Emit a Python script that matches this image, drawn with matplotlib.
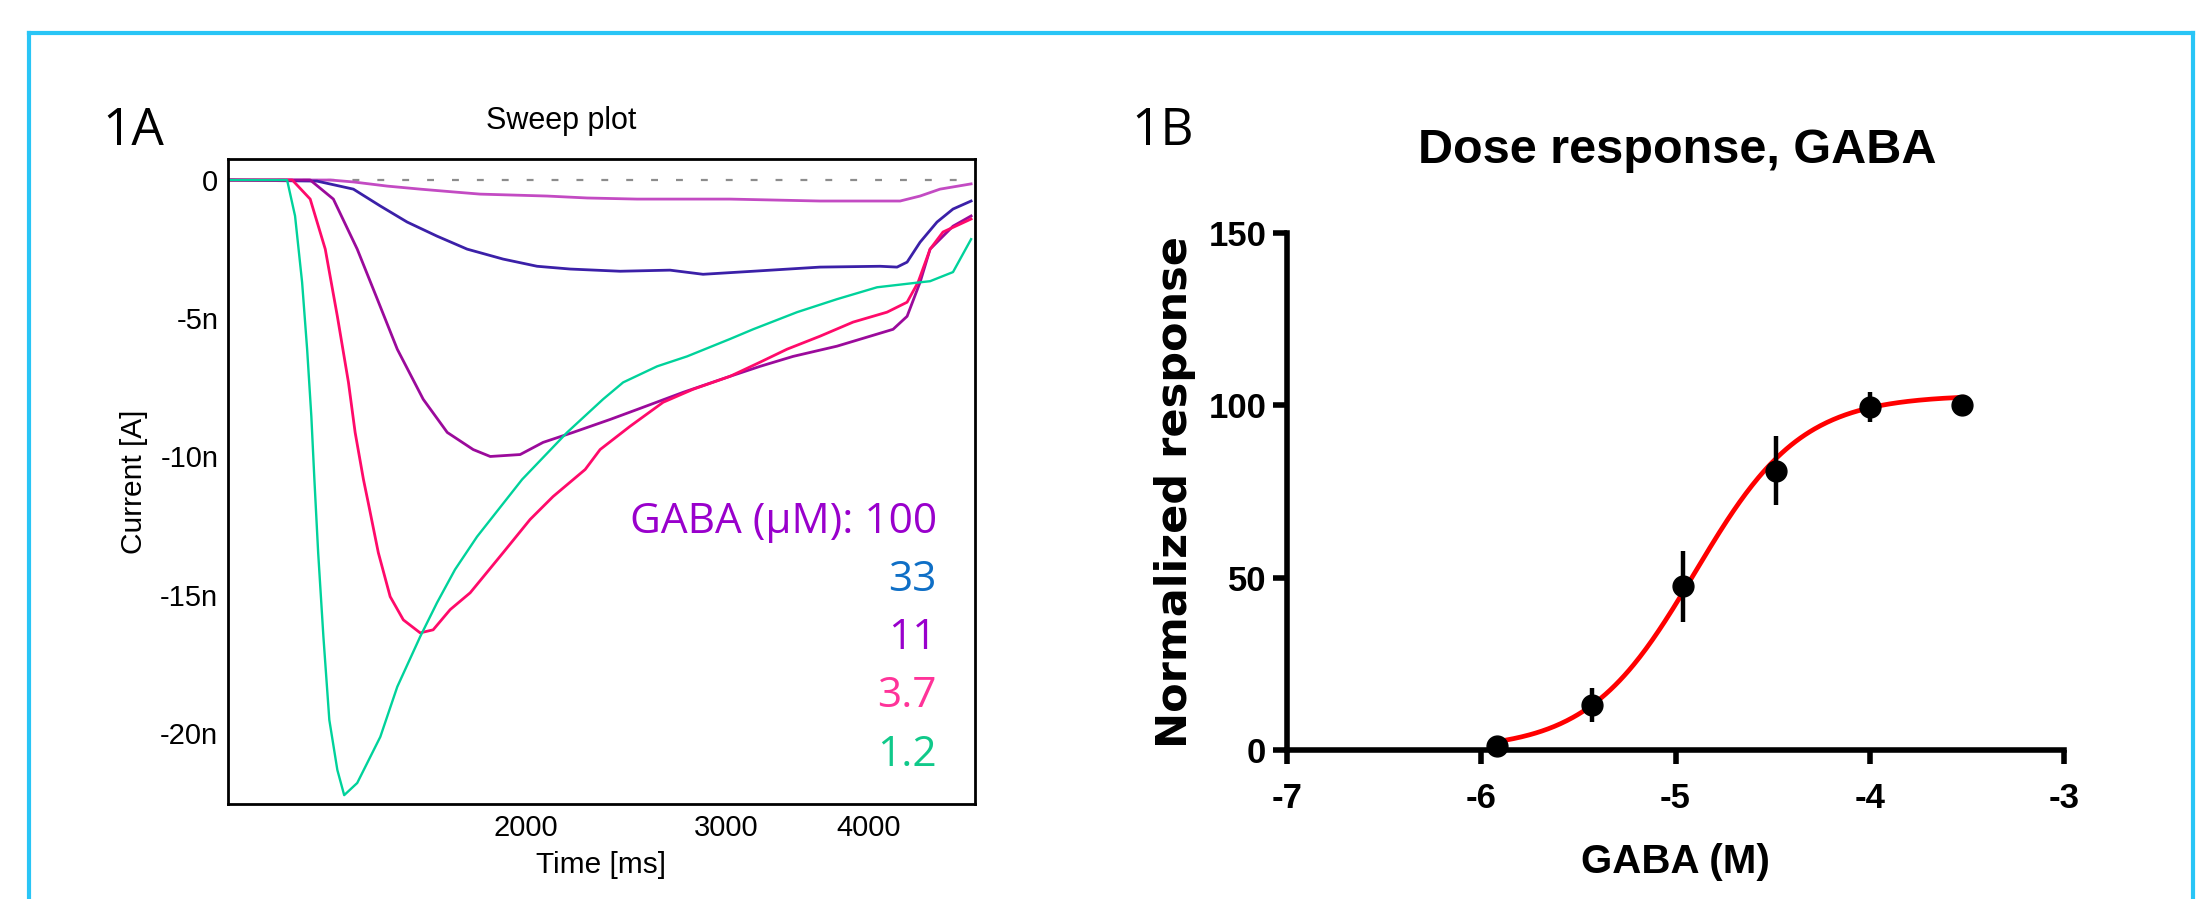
import numpy as np
import matplotlib
matplotlib.use("Agg")
import matplotlib.pyplot as plt
from matplotlib.lines import Line2D
from matplotlib.ticker import NullLocator

plt.rcParams['font.family'] = ['Liberation Sans', 'DejaVu Sans']

# ---- 1A: sweep traces (time in ms, current in nA) ----
t_1p2 = [1094, 1233, 1253, 1271, 1284, 1295, 1303, 1313, 1327, 1343, 1365, 1384, 1421, 1489,
         1541, 1614, 1670, 1732, 1811, 1984, 2173, 2337, 2434, 2607, 2770, 3022, 3166, 3461,
         3752, 4069, 4439, 4530, 4745, 4922]
i_1p2 = [0, 0, -1.30, -3.70, -6.12, -8.55, -10.83, -13.48, -16.52, -19.53, -21.34, -22.25, -21.81,
         -20.14, -18.33, -16.52, -15.29, -14.09, -12.90, -10.83, -9.13, -7.93, -7.32, -6.74, -6.38,
         -5.75, -5.40, -4.78, -4.31, -3.88, -3.70, -3.66, -3.33, -2.14]

t_3p7 = [1094, 1246, 1292, 1332, 1365, 1396, 1415, 1439, 1453, 1483, 1519, 1560, 1614, 1657,
         1715, 1786, 1909, 2016, 2112, 2254, 2323, 2468, 2639, 2804, 3022, 3211, 3391, 3625,
         3876, 4152, 4324, 4421, 4530, 4650, 4922]
i_3p7 = [0, 0, -0.69, -2.50, -4.93, -7.32, -9.13, -10.83, -11.67, -13.48, -15.07, -15.91, -16.38,
         -16.27, -15.54, -14.93, -13.48, -12.28, -11.45, -10.47, -9.75, -8.91, -8.04, -7.57, -7.10,
         -6.59, -6.12, -5.65, -5.14, -4.78, -4.42, -3.70, -2.50, -1.88, -1.41]

t_11 = [1094, 1292, 1354, 1421, 1480, 1541, 1624, 1705, 1797, 1860, 1976, 2070, 2199, 2371,
        2504, 2748, 3022, 3211, 3433, 3752, 4012, 4203, 4324, 4439, 4530, 4745, 4922]
i_11 = [0, 0, -0.69, -2.50, -4.31, -6.12, -7.93, -9.13, -9.75, -10.00, -9.93, -9.49, -9.13, -8.66,
        -8.30, -7.68, -7.10, -6.74, -6.38, -6.01, -5.65, -5.40, -4.93, -3.70, -2.50, -1.67, -1.30]

t_33 = [1094, 1310, 1410, 1489, 1572, 1670, 1775, 1909, 2045, 2186, 2419, 2676, 2861, 3166,
        3625, 4094, 4237, 4324, 4439, 4594, 4745, 4922]
i_33 = [0, -0.04, -0.33, -0.94, -1.52, -2.03, -2.50, -2.86, -3.12, -3.22, -3.30, -3.26, -3.41,
        -3.30, -3.15, -3.12, -3.15, -2.97, -2.25, -1.52, -1.05, -0.76]

t_100 = [1094, 1346, 1410, 1510, 1614, 1725, 1822, 2087, 2263, 2504, 3022, 3625, 4263, 4439,
         4622, 4922]
i_100 = [0, 0, -0.07, -0.22, -0.33, -0.43, -0.51, -0.58, -0.65, -0.69, -0.69, -0.76, -0.76,
         -0.58, -0.33, -0.14]

conc_labels = ['GABA (µM): 100', '33', '11', '3.7', '1.2']
conc_colors = ['#9900CC', '#0F6FC6', '#9900CC', '#FF3399', '#10C98A']

y_ticks_a = [0, -5, -10, -15, -20]
y_labels_a = ['0', '-5n', '-10n', '-15n', '-20n']
x_ticks_a = [2000, 3000, 4000]

# ---- 1B: dose response ----
log_dose = [-5.921, -5.432, -4.959, -4.481, -4.0, -3.523]
resp = [1.2, 13.0, 47.5, 81.0, 99.5, 100.0]
resp_err = [1.0, 5.0, 10.3, 10.0, 4.3, 0.0]
# fitted Hill curve parameters
fit_bottom, fit_top, fit_logec50, fit_hill = 0.0, 103.0, -4.90, 1.585

x_ticks_b = [-7, -6, -5, -4, -3]
y_ticks_b = [0, 50, 100, 150]

W, H = 2197, 899


def fx(px):
    return px / W


def fy(py):
    return 1 - py / H


fig = plt.figure(figsize=(W / 100, H / 100), dpi=100)

# cyan frame
frame_col = '#29C5F6'
fig.add_artist(Line2D([fx(29), fx(2193)], [fy(33), fy(33)], color=frame_col, lw=3))
fig.add_artist(Line2D([fx(29), fx(29)], [fy(33), 0], color=frame_col, lw=3))
fig.add_artist(Line2D([fx(2193), fx(2193)], [fy(33), 0], color=frame_col, lw=3))

# panel A
ax1 = fig.add_axes([fx(228), fy(804), fx(975) - fx(228), fy(159) - fy(804)])
ax1.set_xscale('log')
ax1.set_xlim(1094, 4961)
ax1.set_ylim(-22.57, 0.76)
ax1.axhline(0, color='#8c8c8c', lw=1.6, dashes=(3.1, 8.1), zorder=1)

ax1.plot(t_100, i_100, color='#C34BC3', lw=2.0)
ax1.plot(t_33, i_33, color='#3B20A8', lw=2.0)
ax1.plot(t_11, i_11, color='#9B0A9B', lw=2.0)
ax1.plot(t_3p7, i_3p7, color='#FF0A6A', lw=2.0)
ax1.plot(t_1p2, i_1p2, color='#00D29B', lw=1.7)

ax1.set_yticks(y_ticks_a, labels=y_labels_a)
ax1.set_xticks(x_ticks_a, labels=[str(v) for v in x_ticks_a])
ax1.xaxis.set_minor_locator(NullLocator())
ax1.tick_params(length=0, labelsize=21, pad=7)
for s in ax1.spines.values():
    s.set_linewidth(2)
ax1.set_ylabel('Current [A]', fontsize=21.5, labelpad=9)
ax1.set_xlabel('Time [ms]', fontsize=21.5, labelpad=7)

fig.text(fx(561), fy(129), 'Sweep plot', ha='center', va='baseline', fontsize=22)
fig.text(fx(102), fy(145), '1A', ha='left', va='baseline', fontsize=37, family='Open Sans')

baselines = [533, 591, 649, 707, 766]
for lab, col, yb in zip(conc_labels, conc_colors, baselines):
    fig.text(fx(937), fy(yb), lab, ha='right', va='baseline', fontsize=30.5,
             family='Open Sans', color=col)

# panel B
ax2 = fig.add_axes([fx(1287), fy(750), fx(2064) - fx(1287), fy(233) - fy(750)])
ax2.set_xlim(-7, -3)
ax2.set_ylim(0, 150)
ax2.spines['top'].set_visible(False)
ax2.spines['right'].set_visible(False)
ax2.spines['left'].set_linewidth(4)
ax2.spines['bottom'].set_linewidth(4)

x_fit = np.linspace(log_dose[0], log_dose[-1], 300)
y_fit = fit_bottom + (fit_top - fit_bottom) / (1 + 10 ** ((fit_logec50 - x_fit) * fit_hill))
ax2.plot(x_fit, y_fit, color='red', lw=3.4, zorder=2, clip_on=False)
ax2.errorbar(log_dose, resp, yerr=resp_err, fmt='o', color='black', ms=15,
             elinewidth=3.2, capsize=0, zorder=3, clip_on=False)

ax2.set_xticks(x_ticks_b, labels=[str(v) for v in x_ticks_b])
ax2.set_yticks(y_ticks_b, labels=[str(v) for v in y_ticks_b])
ax2.tick_params(width=4, length=10, labelsize=25)
ax2.tick_params(axis='x', pad=13)
ax2.tick_params(axis='y', pad=5)
plt.setp(ax2.get_xticklabels() + ax2.get_yticklabels(), fontweight='bold')
ax2.set_ylabel('Normalized response', fontsize=31, fontweight='bold',
               family='DejaVu Sans', labelpad=9)
ax2.set_xlabel('GABA (M)', fontsize=29, fontweight='bold', labelpad=20)

fig.text(fx(1677), fy(163), 'Dose response, GABA', ha='center', va='baseline',
         fontsize=35, fontweight='bold')
fig.text(fx(1131), fy(145), '1B', ha='left', va='baseline', fontsize=37, family='Open Sans')

fig.savefig('out.png', dpi=100)
